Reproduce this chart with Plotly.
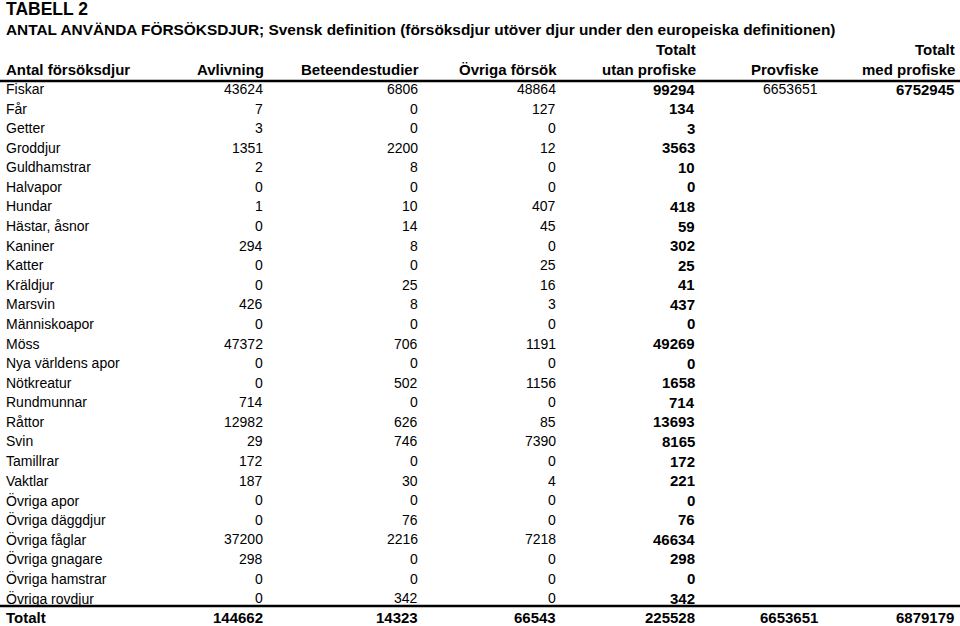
import plotly.graph_objects as go

title = "TABELL 2"
subtitle = "ANTAL ANVÄNDA FÖRSÖKSDJUR; Svensk definition (försöksdjur utöver djur under den europeiska definitionen)"

header_top = ["", "", "", "", "Totalt", "", "Totalt"]
header_bottom = ["Antal försöksdjur", "Avlivning", "Beteendestudier", "Övriga försök",
                 "utan profiske", "Provfiske", "med profiske"]

categories = ["Fiskar", "Får", "Getter", "Groddjur", "Guldhamstrar", "Halvapor", "Hundar",
              "Hästar, åsnor", "Kaniner", "Katter", "Kräldjur", "Marsvin", "Människoapor",
              "Möss", "Nya världens apor", "Nötkreatur", "Rundmunnar", "Råttor", "Svin",
              "Tamillrar", "Vaktlar", "Övriga apor", "Övriga däggdjur", "Övriga fåglar",
              "Övriga gnagare", "Övriga hamstrar", "Övriga rovdjur"]
avlivning = [43624, 7, 3, 1351, 2, 0, 1, 0, 294, 0, 0, 426, 0, 47372, 0, 0, 714, 12982,
             29, 172, 187, 0, 0, 37200, 298, 0, 0]
beteendestudier = [6806, 0, 0, 2200, 8, 0, 10, 14, 8, 0, 25, 8, 0, 706, 0, 502, 0, 626,
                   746, 0, 30, 0, 76, 2216, 0, 0, 342]
ovriga_forsok = [48864, 127, 0, 12, 0, 0, 407, 45, 0, 25, 16, 3, 0, 1191, 0, 1156, 0, 85,
                 7390, 0, 4, 0, 0, 7218, 0, 0, 0]
totalt_utan = [99294, 134, 3, 3563, 10, 0, 418, 59, 302, 25, 41, 437, 0, 49269, 0, 1658,
               714, 13693, 8165, 172, 221, 0, 76, 46634, 298, 0, 342]
provfiske = [6653651] + [None] * 26
totalt_med = [6752945] + [None] * 26

total_label = "Totalt"
totals = [144662, 14323, 66543, 225528, 6653651, 6879179]

FONT = "Liberation Sans, Arial, sans-serif"
col_right = [264, 419, 557, 696, 819, 955]
bold_cols = {3, 5}
label_x = 5
row_y0 = 89
row_step = 19.58

fig = go.Figure()
ann = []

def add(x, y, text, size, bold=False, anchor="left"):
    ann.append(dict(x=x, y=y, xref="x", yref="y", text=f"<b>{text}</b>" if bold else text,
                    showarrow=False, xanchor=anchor, yanchor="middle",
                    font=dict(family=FONT, size=size, color="black")))

add(label_x - 1, 9, title, 17.5, True)
add(label_x - 1, 29.5, subtitle, 15.4, True)

# headers
for i, (t, b) in enumerate(zip(header_top, header_bottom)):
    if i == 0:
        add(label_x - 1, 69, b, 15, True)
    else:
        if t:
            add(col_right[i - 1] + 2, 49, t, 15, True, "right")
        add(col_right[i - 1] + 2, 69, b, 15, True, "right")

cols = [avlivning, beteendestudier, ovriga_forsok, totalt_utan, provfiske, totalt_med]
for r, cat in enumerate(categories):
    y = row_y0 + r * row_step
    add(label_x - 1, y, cat, 14)
    for c, col in enumerate(cols):
        v = col[r]
        if v is None:
            continue
        if c in bold_cols:
            add(col_right[c] + 1, y, str(v), 15, True, "right")
        else:
            add(col_right[c] + 1, y, str(v), 14, False, "right")

ty = 617
add(label_x - 1, ty, total_label, 15, True)
for c, v in enumerate(totals):
    add(col_right[c] + 1, ty, str(v), 15, True, "right")

shapes = [
    dict(type="line", xref="x", yref="y", x0=0, x1=960, y0=81, y1=81,
         line=dict(color="black", width=2.5)),
    dict(type="line", xref="x", yref="y", x0=0, x1=960, y0=606, y1=606,
         line=dict(color="black", width=2.5)),
]

fig.update_layout(
    width=960, height=626,
    margin=dict(l=0, r=0, t=0, b=0),
    paper_bgcolor="white", plot_bgcolor="white",
    xaxis=dict(range=[0, 960], visible=False, fixedrange=True),
    yaxis=dict(range=[626, 0], visible=False, fixedrange=True),
    annotations=ann, shapes=shapes, showlegend=False,
)
fig.write_html("out.html", config={"staticPlot": True},
               post_script="document.body.style.margin='0';document.body.style.overflow='hidden';")
